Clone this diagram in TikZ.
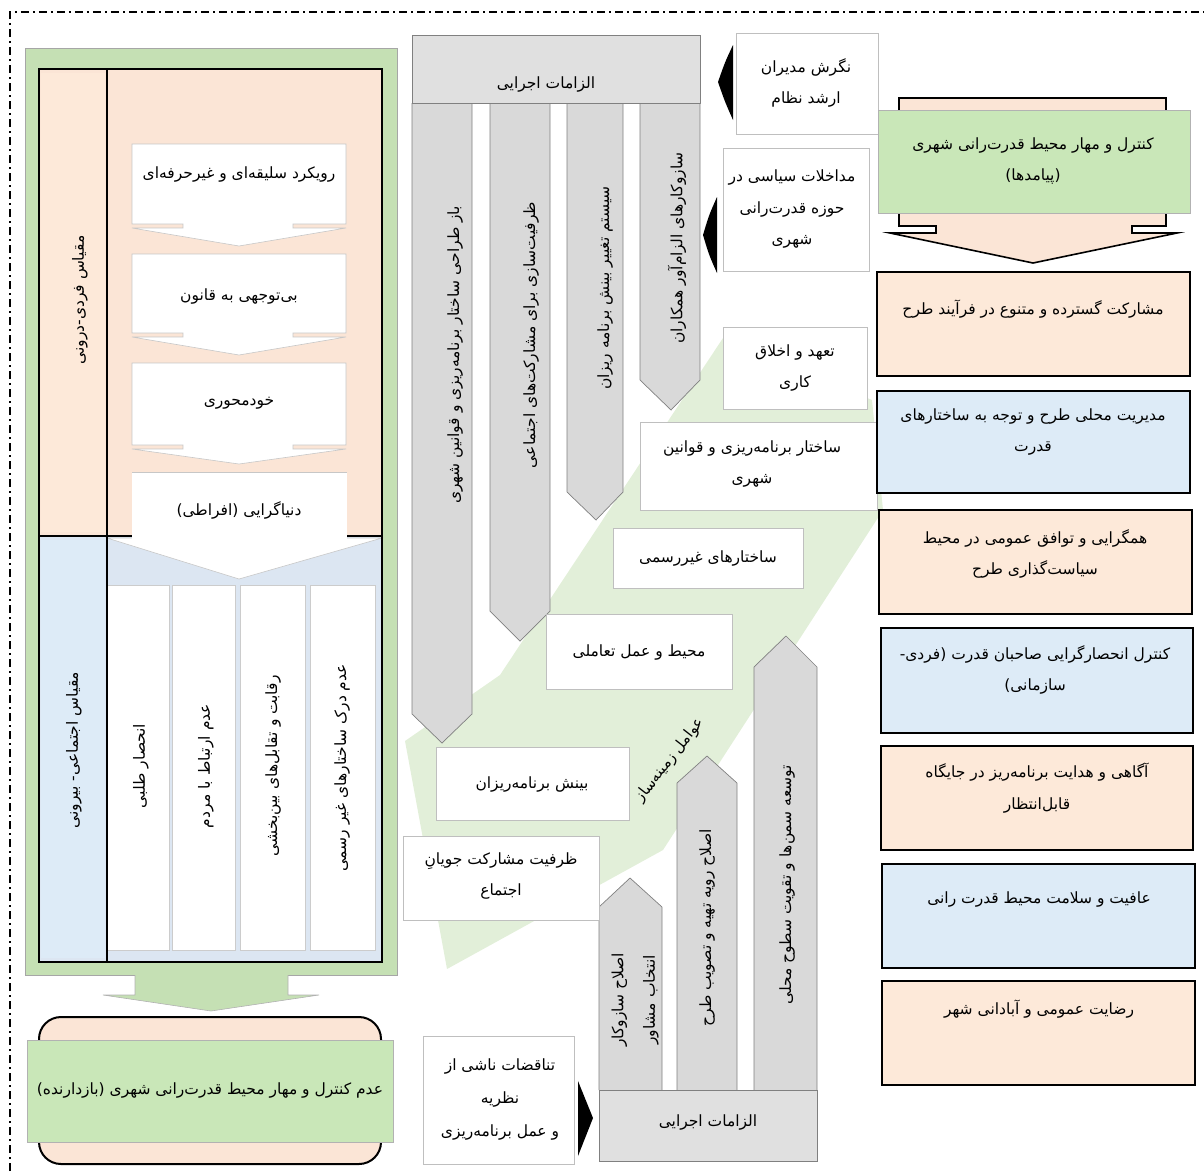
\documentclass[tikz,border=0pt]{standalone}
\usepackage{fontspec}
\newfontfamily\farsi[Script=Arabic]{DejaVu Sans}
\TeXXeTstate=1
\newcommand\myrl[1]{\beginR #1\endR}
\definecolor{cGreen}{HTML}{C5E0B4}
\definecolor{cGreenL}{HTML}{C9E7B8}
\definecolor{cPink}{HTML}{FBE5D6}
\definecolor{cPinkL}{HTML}{FDE9D9}
\definecolor{cBlue}{HTML}{DDEBF7}
\definecolor{cBlueG}{HTML}{DCE6F2}
\definecolor{cBand}{HTML}{E2EFD9}
\definecolor{cGray}{HTML}{D9D9D9}
\definecolor{cGrayL}{HTML}{E0E0E0}
\definecolor{cGrayD}{HTML}{808080}
\definecolor{cBorder}{HTML}{BFBFBF}
\tikzset{
  fa/.style={font=\farsi\fontsize{15.5}{31.5}\selectfont, align=center, inner sep=1pt},
  wbox/.style={draw=cBorder, fill=white, line width=0.7pt},
  rbox/.style={draw=black, line width=2.2pt},
  gcolfill/.style={fill=cGray},
  gcolline/.style={draw=cGrayD, line width=0.7pt},
  chevbox/.style={fill=white, draw=black!22, line width=0.6pt},
  blackarrow/.style={fill=black},
}
\newcommand\mychev[4]{%
  \path[chevbox] (132,#1) -- (346,#1) -- (346,#2) -- (293,#2) -- (293,#3) -- (346,#3)
    -- (239,#4) -- (132,#3) -- (183,#3) -- (183,#2) -- (132,#2) -- cycle;}
\begin{document}
\begin{tikzpicture}[x=1pt,y=-1pt]
\useasboundingbox (0,0) rectangle (1204,1171);
% outer dash-dot frame
\draw[line width=1.4pt, dash pattern=on 8pt off 4pt on 2pt off 4pt] (10,1171) -- (10,12) -- (1204,12);

% ================= LEFT BLOCK =================
\draw[fill=cGreen, draw=black!35, line width=0.7pt] (25,48) rectangle (397,975);
\fill[cPink] (39,69) rectangle (382,536);
\fill[cPinkL] (41,73) rectangle (105,532);
\fill[cBlueG] (39,536) rectangle (382,962);
\fill[cBlue] (41,540) rectangle (105,958);
% chevrons
\mychev{144}{224}{228}{246}
\mychev{254}{333}{337}{355}
\mychev{363}{445}{449}{464}
\path[chevbox] (107,538) -- (382,538) -- (239,579) -- cycle;
\fill[white] (132,472) rectangle (347,545);
\draw[black!22, line width=0.6pt] (132,472) -- (347,472);
% white columns
\foreach \a/\b in {107/169,172/235,240/305,310/375}
  \draw[fill=white, draw=black!20, line width=0.6pt] (\a,585) rectangle (\b,950);
% black frame lines
\draw[line width=2.2pt] (39,69) rectangle (382,962);
\draw[line width=1.6pt] (107,69) -- (107,962);
\draw[line width=2pt] (39,536) -- (132,536);
\draw[line width=2pt] (347,536) -- (382,536);
% labels
\node[fa, rotate=90] (lblA) at (80,300) {\myrl{مقیاس فردی-درونی}};
\node[fa, rotate=90] (lblB) at (74,750) {\myrl{مقیاس اجتماعی- بیرونی}};
\node[fa] (c1) at (239,174) {\myrl{رویکرد سلیقه‌ای و غیرحرفه‌ای}};
\node[fa] (c2) at (239,296) {\myrl{بی‌توجهی به قانون}};
\node[fa] (c3) at (239,403) {\myrl{خودمحوری}};
\node[fa] (c4) at (239,510) {\myrl{دنیاگرایی (افراطی)}};
\node[fa, rotate=90] (s1) at (141,766) {\myrl{انحصار طلبی}};
\node[fa, rotate=90] (s2) at (206,766) {\myrl{عدم ارتباط با مردم}};
\node[fa, rotate=90] (s3) at (273,766) {\myrl{رقابت و تقابل‌های بین‌بخشی}};
\node[fa, rotate=90] (s4) at (342,768) {\myrl{عدم درک ساختارهای غیر رسمی}};
% green down arrow
\draw[fill=cGreen, draw=black!30, line width=0.6pt] (135,975) -- (135,995) -- (103,995) -- (211,1011) -- (319,995) -- (288,995) -- (288,975);
% bottom result box
\draw[fill=cPink, line width=2pt, rounded corners=22pt] (39,1017) rectangle (381,1164);
\draw[fill=cGreenL, draw=black!30, line width=0.7pt] (27,1040) rectangle (393,1142);
\node[fa] (res) at (210,1090) {\myrl{عدم کنترل و مهار محیط قدرت‌رانی شهری (بازدارنده)}};

% ================= MIDDLE =================
% green band
\fill[cBand] (405,741) -- (500,675) -- (723,338) -- (872,400) -- (883,510) -- (663,850) -- (447,969) -- cycle;
\node[fa, rotate=52, font=\farsi\fontsize{15}{20}\selectfont] (band) at (670,760) {\myrl{عوامل زمینه‌ساز}};
% top gray block
\draw[fill=cGrayL, draw=cGrayD, line width=0.7pt] (412,35) rectangle (700,103);
\node[fa] (topz) at (546,84) {\myrl{الزامات اجرایی}};
% hanging columns
\fill[gcolfill] (412,103) -- (412,714) -- (442,743) -- (472,714) -- (472,103) -- cycle;
\draw[gcolline] (412,103) -- (412,714) -- (442,743) -- (472,714) -- (472,103);
\fill[gcolfill] (490,103) -- (490,611) -- (520,641) -- (550,611) -- (550,103) -- cycle;
\draw[gcolline] (490,103) -- (490,611) -- (520,641) -- (550,611) -- (550,103);
\fill[gcolfill] (567,103) -- (567,492) -- (596,520) -- (623,492) -- (623,103) -- cycle;
\draw[gcolline] (567,103) -- (567,492) -- (596,520) -- (623,492) -- (623,103);
\fill[gcolfill] (640,103) -- (640,380) -- (671,410) -- (700,380) -- (700,103) -- cycle;
\draw[gcolline] (640,103) -- (640,380) -- (671,410) -- (700,380) -- (700,103);
\draw[cGrayD, line width=0.8pt] (412,103) -- (700,103);
\node[fa, rotate=90] (h1) at (455,355) {\myrl{باز طراحی ساختار برنامه‌ریزی و قوانین شهری}};
\node[fa, rotate=90] (h2) at (531,335) {\myrl{ظرفیت‌سازی برای مشارکت‌های اجتماعی}};
\node[fa, rotate=90] (h3) at (605,288) {\myrl{سیستم تغییر بینش برنامه ریزان}};
\node[fa, rotate=90] (h4) at (677,248) {\myrl{سازوکارهای الزام‌آور همکاران}};
% bottom gray block and rising columns
\fill[gcolfill] (599,1090) -- (599,907) -- (630,878) -- (662,907) -- (662,1090) -- cycle;
\draw[gcolline] (599,1090) -- (599,907) -- (630,878) -- (662,907) -- (662,1090);
\fill[gcolfill] (677,1090) -- (677,783) -- (707,756) -- (737,783) -- (737,1090) -- cycle;
\draw[gcolline] (677,1090) -- (677,783) -- (707,756) -- (737,783) -- (737,1090);
\fill[gcolfill] (754,1090) -- (754,667) -- (786,636) -- (817,667) -- (817,1090) -- cycle;
\draw[gcolline] (754,1090) -- (754,667) -- (786,636) -- (817,667) -- (817,1090);
\draw[fill=cGrayL, draw=cGrayD, line width=0.7pt] (599,1090) rectangle (817,1161);
\node[fa] (botz) at (708,1122) {\myrl{الزامات اجرایی}};
\node[fa, rotate=90] (r1) at (635,1000) {\myrl{اصلاح سازوکار}\\\myrl{انتخاب مشاور}};
\node[fa, rotate=90] (r2) at (707,928) {\myrl{اصلاح رویه تهیه و تصویب طرح}};
\node[fa, rotate=90] (r3) at (787,885) {\myrl{توسعه سمن‌ها و تقویت سطوح محلی}};
% white factor boxes
\draw[wbox] (736,33) rectangle (878,134);
\node[fa] (f1) at (806,83) {\myrl{نگرش مدیران}\\\myrl{ارشد نظام}};
\draw[wbox] (723,148) rectangle (869,271);
\node[fa] (f2) at (792,209) {\myrl{مداخلات سیاسی در}\\\myrl{حوزه قدرت‌رانی}\\\myrl{شهری}};
\draw[wbox] (723,327) rectangle (867,409);
\node[fa] (f3) at (795,368) {\myrl{تعهد و اخلاق}\\\myrl{کاری}};
\draw[wbox] (640,422) rectangle (877,510);
\node[fa] (f4) at (752,464) {\myrl{ساختار برنامه‌ریزی و قوانین}\\\myrl{شهری}};
\draw[wbox] (613,528) rectangle (803,588);
\node[fa] (f5) at (708,558) {\myrl{ساختارهای غیررسمی}};
\draw[wbox] (546,614) rectangle (732,689);
\node[fa] (f6) at (639,652) {\myrl{محیط و عمل تعاملی}};
\draw[wbox] (436,747) rectangle (629,820);
\node[fa] (f7) at (532,784) {\myrl{بینش برنامه‌ریزان}};
\draw[wbox] (403,836) rectangle (599,920);
\node[fa] (f8) at (501,876) {\myrl{ظرفیت مشارکت جویانِ}\\\myrl{اجتماع}};
\draw[wbox] (423,1036) rectangle (574,1164);
\node[fa, font=\farsi\fontsize{15.5}{33}\selectfont] (f9) at (500,1099) {\myrl{تناقضات ناشی از}\\\myrl{نظریه}\\\myrl{و عمل برنامه‌ریزی}};
% black pointer arrows
\fill[blackarrow] (733,45) .. controls (725,62) .. (718,82) .. controls (725,102) .. (733,120) -- cycle;
\fill[blackarrow] (717,197) .. controls (709,215) .. (703,235) .. controls (709,255) .. (717,273) -- cycle;
\fill[blackarrow] (578,1081) .. controls (586,1099) .. (593,1118) .. controls (586,1137) .. (578,1156) -- cycle;

% ================= RIGHT COLUMN =================
\draw[fill=cPink, line width=1.6pt] (899,98) -- (1166,98) -- (1166,226) -- (1132,226) -- (1132,233) -- (1177,233) -- (1033,263) -- (890,233) -- (936,233) -- (936,226) -- (899,226) -- cycle;
\draw[fill=cGreenL, draw=black!30, line width=0.7pt] (878,110) rectangle (1190,213);
\node[fa] (o0) at (1033,161) {\myrl{کنترل و مهار محیط قدرت‌رانی شهری}\\\myrl{(پیامدها)}};
\draw[rbox, fill=cPinkL] (877,272) rectangle (1190,376);
\node[fa] (o1) at (1033,309) {\myrl{مشارکت گسترده و متنوع در فرآیند طرح}};
\draw[rbox, fill=cBlue] (877,391) rectangle (1190,493);
\node[fa] (o2) at (1033,432) {\myrl{مدیریت محلی طرح و توجه به ساختارهای}\\\myrl{قدرت}};
\draw[rbox, fill=cPinkL] (879,510) rectangle (1192,614);
\node[fa] (o3) at (1035,554) {\myrl{همگرایی و توافق عمومی در محیط}\\\myrl{سیاست‌گذاری طرح}};
\draw[rbox, fill=cBlue] (881,628) rectangle (1193,733);
\node[fa] (o4) at (1035,670) {\myrl{کنترل انحصارگرایی صاحبان قدرت (فردی-}\\\myrl{سازمانی)}};
\draw[rbox, fill=cPinkL] (881,746) rectangle (1193,850);
\node[fa] (o5) at (1037,788) {\myrl{آگاهی و هدایت برنامه‌ریز در جایگاه}\\\myrl{قابل‌انتظار}};
\draw[rbox, fill=cBlue] (882,864) rectangle (1195,968);
\node[fa] (o6) at (1039,899) {\myrl{عافیت و سلامت محیط قدرت رانی}};
\draw[rbox, fill=cPinkL] (882,981) rectangle (1195,1085);
\node[fa] (o7) at (1039,1009) {\myrl{رضایت عمومی و آبادانی شهر}};
\end{tikzpicture}
\end{document}
